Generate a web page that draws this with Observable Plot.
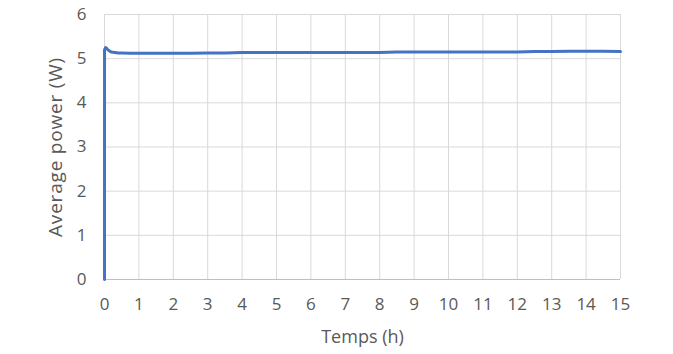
<!DOCTYPE html>
<html><head><meta charset="utf-8">
<script src="https://cdn.jsdelivr.net/npm/d3@7"></script>
<script src="https://cdn.jsdelivr.net/npm/@observablehq/plot@0.6"></script>
<style>body{margin:0;background:#fff;} svg{font-family:"Open Sans",sans-serif;}</style>
</head><body><div id="chart"></div>
<script>
const times = [0, 0.001, 0.03, 0.06, 0.1, 0.15, 0.2, 0.3, 0.4, 0.5, 0.75, 1, 1.5, 2, 2.5, 3, 3.5, 4, 4.5, 5, 5.5, 6, 6.5, 7, 7.5, 8, 8.5, 9, 9.5, 10, 10.5, 11, 11.5, 12, 12.5, 13, 13.5, 14, 14.5, 15];
const power = [0, 5.2, 5.25, 5.24, 5.2, 5.17, 5.15, 5.14, 5.13, 5.13, 5.12, 5.12, 5.12, 5.12, 5.12, 5.13, 5.13, 5.14, 5.14, 5.14, 5.14, 5.14, 5.14, 5.14, 5.14, 5.14, 5.15, 5.15, 5.15, 5.15, 5.15, 5.15, 5.15, 5.15, 5.16, 5.16, 5.17, 5.17, 5.17, 5.16];
const xTicks = d3.range(0, 16);
const yTicks = [0, 1, 2, 3, 4, 5, 6];
const xTitle = "Temps (h)";
const yTitle = "Average power (W)";
const data = times.map((t, i) => ({t, p: power[i]}));
const chart = Plot.plot({
  width: 673, height: 354,
  marginLeft: 104, marginRight: 53, marginTop: 14, marginBottom: 75,
  style: {fontSize: "17px", color: "#595959", fontFamily: "Open Sans, sans-serif"},
  x: {domain: [0, 15]},
  y: {domain: [0, 6]},
  marks: [
    Plot.gridX(xTicks, {stroke: "#d9d9d9", strokeOpacity: 1}),
    Plot.gridY(yTicks, {stroke: "#d9d9d9", strokeOpacity: 1}),
    Plot.ruleY([0], {stroke: "#bfbfbf"}),
    Plot.axisX({ticks: xTicks, tickFormat: "d", tickSize: 0, tickPadding: 18, fontSize: 17, label: null}),
    Plot.axisY({ticks: yTicks, tickFormat: "d", tickSize: 0, tickPadding: 18, fontSize: 17, label: null}),
    Plot.text([xTitle], {frameAnchor: "bottom", textAnchor: "middle", lineAnchor: "middle", dy: 58, fontSize: 18, fill: "#595959"}),
    Plot.text([yTitle], {frameAnchor: "left", textAnchor: "middle", lineAnchor: "middle", dx: -49, rotate: -90, fontSize: 19, fill: "#595959"}),
    Plot.line(data, {x: "t", y: "p", stroke: "#4472c4", strokeWidth: 3})
  ]
});
d3.select(chart).selectAll("text").filter(function(){ return this.textContent === yTitle; }).attr("letter-spacing", "0.8px");
document.getElementById("chart").append(chart);
</script></body></html>
